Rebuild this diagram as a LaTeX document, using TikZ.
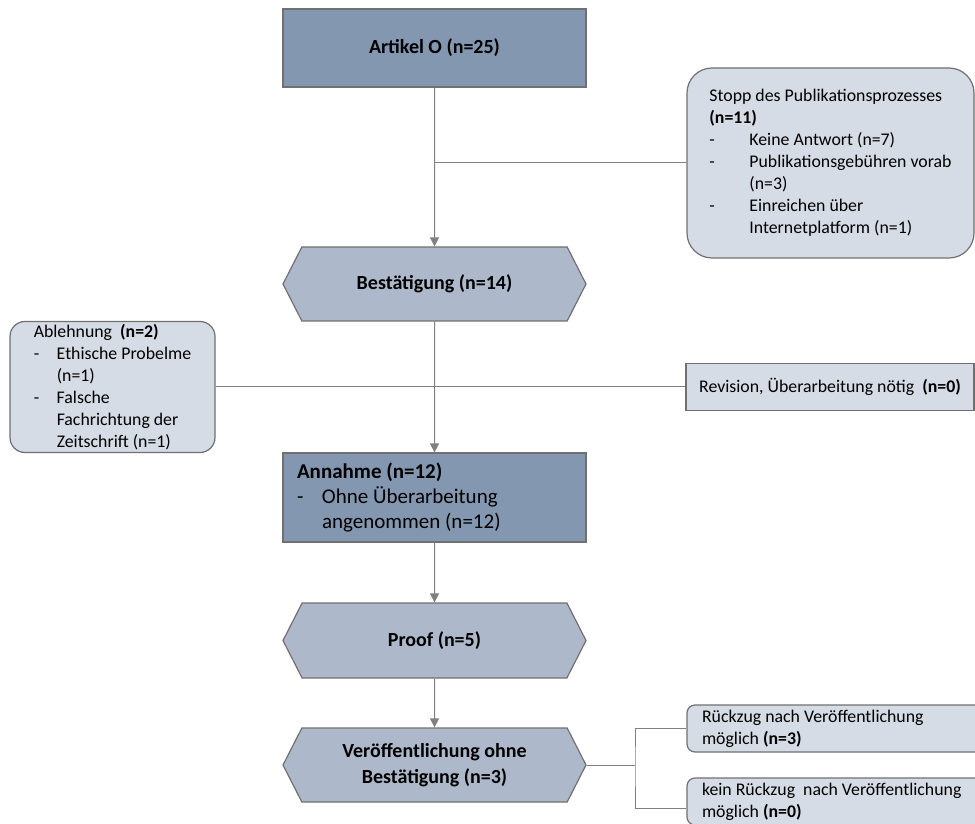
\documentclass[tikz,border=0pt]{standalone}
\usepackage{fontspec}
\setmainfont{Carlito}
\usetikzlibrary{arrows.meta,shapes.symbols}

\definecolor{dunkel}{RGB}{132,151,176}
\definecolor{mittel}{RGB}{173,185,202}
\definecolor{hell}{RGB}{214,220,229}
\definecolor{rand}{RGB}{112,112,112}
\definecolor{liniengrau}{RGB}{128,128,128}

\newcommand{\strich}[1]{\makebox[#1][l]{-}}
\newcommand{\einzug}[1]{\hspace*{#1}}

\tikzset{
  kasten/.style={draw=rand, line width=1.2pt, fill=dunkel, inner sep=0pt},
  sechseck/.style={signal, signal to=west and east, signal pointer angle=126,
    draw=rand, line width=1.2pt, fill=mittel, minimum width=303pt, minimum height=74pt,
    inner sep=0pt, align=center, font=\fontsize{20}{26}\selectfont\bfseries},
  notiz/.style={draw=rand, line width=1.2pt, fill=hell, inner sep=0pt, align=flush left,
    font=\fontsize{17.8}{22}\selectfont},
  verbindung/.style={draw=liniengrau, line width=1pt},
  pfeil/.style={verbindung, -{Triangle[width=9pt,length=9pt]}}
}

\begin{document}
\begin{tikzpicture}[x=1pt,y=1pt]
  \useasboundingbox (0,0) rectangle (975,823);

  \node[kasten, minimum width=303pt, minimum height=78pt, font=\fontsize{20}{25}\selectfont\bfseries] (artikel) at (434.5,775) {Artikel O (n=25)};
  \node[notiz, rounded corners=25pt, minimum width=287pt, minimum height=190pt] (stopp) at (830.5,660)
    {Stopp des Publikationsprozesses\\ \textbf{(n=11)}\\ \strich{40pt}Keine Antwort (n=7)\\ \strich{40pt}Publikationsgebühren vorab\\ \einzug{40pt}(n=3)\\ \strich{40pt}Einreichen über\\ \einzug{40pt}Internetplatform (n=1)};
  \node[sechseck] (best) at (434.5,539) {Bestätigung (n=14)};
  \node[notiz, rounded corners=15pt, minimum width=205pt, minimum height=131pt] (ablehnung) at (112.5,436)
    {Ablehnung~ \textbf{(n=2)}\\ \strich{23pt}Ethische Probelme\\ \einzug{23pt}(n=1)\\ \strich{23pt}Falsche\\ \einzug{23pt}Fachrichtung der\\ \einzug{23pt}Zeitschrift (n=1)};
  \node[notiz, minimum width=288pt, minimum height=47pt] (revision) at (830,436) {Revision, Überarbeitung nötig~ \textbf{(n=0)}};
  \node[kasten, minimum width=303pt, minimum height=89pt, text width=275pt, align=flush left, font=\fontsize{21}{25}\selectfont] (annahme) at (434.5,325.5)
    {\textbf{Annahme (n=12)}\\ \strich{25pt}Ohne Überarbeitung\\ \einzug{25pt}angenommen (n=12)};
  \node[sechseck, minimum height=75pt] (proof) at (434.5,182.5) {Proof (n=5)};
  \node[sechseck] (veroeff) at (434.5,58) {Veröffentlichung ohne\\Bestätigung (n=3)};
  \node[notiz, rounded corners=8pt, minimum width=320pt, minimum height=47pt, text width=290pt] (rueckzug) at (847,94.5)
    {Rückzug nach Veröffentlichung\\möglich \textbf{(n=3)}};
  \node[notiz, rounded corners=8pt, minimum width=320pt, minimum height=47pt, text width=290pt] (keinrueckzug) at (847,21.5)
    {kein Rückzug~ nach Veröffentlichung\\möglich \textbf{(n=0)}};

  \draw[pfeil] (artikel) -- (best);
  \draw[verbindung] (artikel.south |- stopp.west) -- (stopp.west);
  \draw[pfeil] (best) -- (annahme);
  \draw[verbindung] (ablehnung.east) -- (revision.west);
  \draw[pfeil] (annahme) -- (proof);
  \draw[pfeil] (proof) -- (veroeff);
  \coordinate (gabel) at (635,58);
  \draw[verbindung] (veroeff.east) -- (gabel);
  \draw[verbindung] (rueckzug.west) -| (gabel) |- ([yshift=-6.5pt]keinrueckzug.west);
\end{tikzpicture}
\end{document}
